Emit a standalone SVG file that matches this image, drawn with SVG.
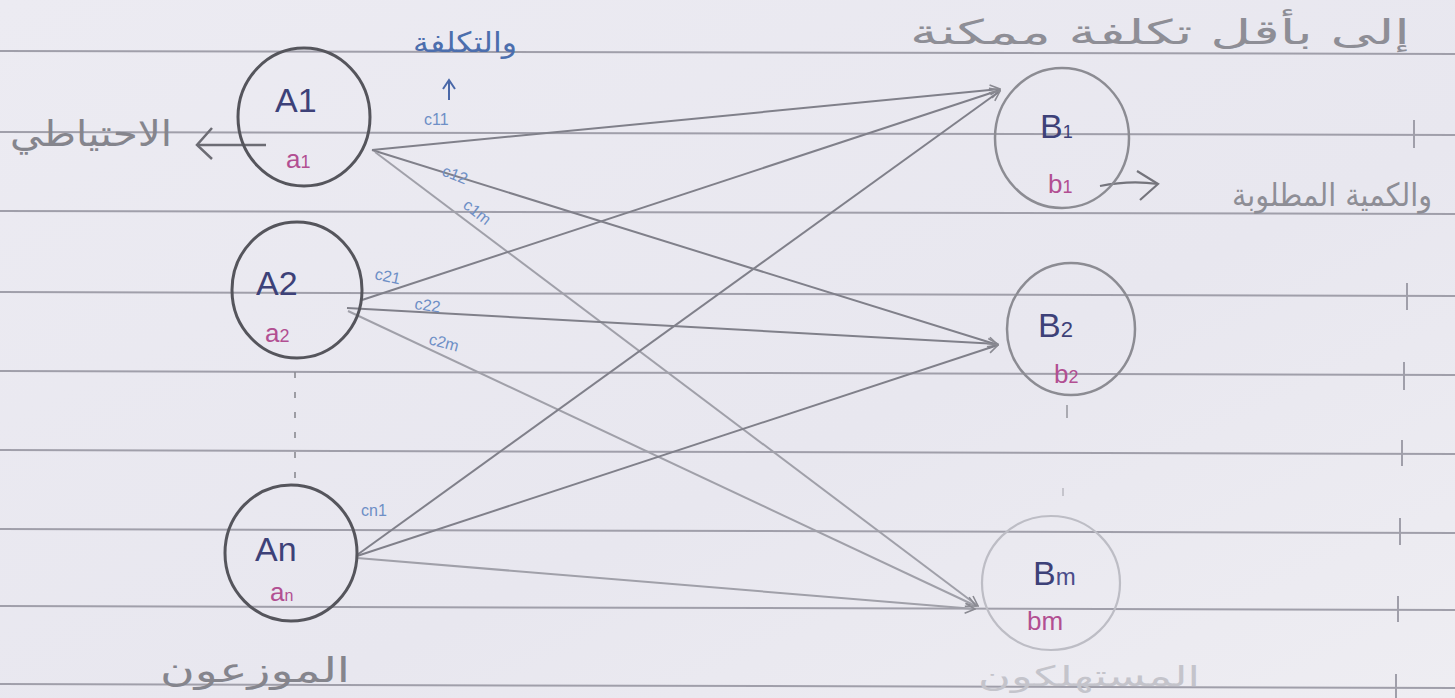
<svg xmlns="http://www.w3.org/2000/svg" width="1455" height="698" viewBox="0 0 1455 698">
  <defs>
    <linearGradient id="paper" x1="0" y1="0" x2="1" y2="1">
      <stop offset="0" stop-color="#ecebf2"/>
      <stop offset="0.6" stop-color="#e8e7ef"/>
      <stop offset="1" stop-color="#eeedf2"/>
    </linearGradient>
    <marker id="tip" viewBox="0 0 12 12" refX="11" refY="6" markerWidth="12" markerHeight="12" markerUnits="userSpaceOnUse" orient="auto">
      <path d="M1,1 L11,6 L1,11" fill="none" stroke="#8a8a92" stroke-width="1.6"/>
    </marker>
  </defs>
  <style>
    .rule { stroke: #a09faa; stroke-width: 2; }
    .tick { stroke: #a09faa; stroke-width: 2; }
    .src { fill: none; stroke: #55555c; stroke-width: 3; }
    .dst { fill: none; stroke: #8c8c93; stroke-width: 2.5; }
    .edge { fill: none; stroke: #80808a; stroke-width: 2; }
    .edge.faint { stroke: #a0a0a9; }
    .cap { font-family: "Liberation Sans", sans-serif; fill: #3d4178; font-size: 34px; }
    .qty { font-family: "Liberation Sans", sans-serif; fill: #b24f92; font-size: 26px; }
    .cost { font-family: "Liberation Sans", sans-serif; fill: #6e8fc6; font-size: 16px; }
    .note { font-family: "DejaVu Sans", sans-serif; fill: #85858d; direction: rtl; }
  </style>

  <!-- ruled notebook paper -->
  <rect width="1455" height="698" fill="url(#paper)"/>
  <g id="rules">
    <line class="rule" x1="0" y1="51" x2="1455" y2="54"/>
    <line class="rule" x1="0" y1="132" x2="1455" y2="135"/>
    <line class="rule" x1="0" y1="211" x2="1455" y2="214"/>
    <line class="rule" x1="0" y1="292" x2="1455" y2="296"/>
    <line class="rule" x1="0" y1="371" x2="1455" y2="375"/>
    <line class="rule" x1="0" y1="450" x2="1455" y2="454"/>
    <line class="rule" x1="0" y1="529" x2="1455" y2="533"/>
    <line class="rule" x1="0" y1="606" x2="1455" y2="610"/>
    <line class="rule" x1="0" y1="684" x2="1455" y2="688"/>
    <line class="tick" x1="1414" y1="120" x2="1414" y2="148"/>
    <line class="tick" x1="1407" y1="283" x2="1407" y2="310"/>
    <line class="tick" x1="1404" y1="362" x2="1404" y2="390"/>
    <line class="tick" x1="1402" y1="440" x2="1402" y2="466"/>
    <line class="tick" x1="1400" y1="518" x2="1400" y2="545"/>
    <line class="tick" x1="1398" y1="596" x2="1398" y2="622"/>
    <line class="tick" x1="1396" y1="674" x2="1396" y2="698"/>
  </g>

  <!-- transport routes from each distributor to each consumer -->
  <g id="connectors">
    <line class="edge" x1="372" y1="150" x2="1000" y2="89" marker-end="url(#tip)"/>
    <line class="edge" x1="372" y1="150" x2="998" y2="345" marker-end="url(#tip)"/>
    <line class="edge faint" x1="375" y1="152" x2="978" y2="606" marker-end="url(#tip)"/>
    <line class="edge" x1="362" y1="300" x2="1000" y2="90" marker-end="url(#tip)"/>
    <line class="edge" x1="347" y1="308" x2="998" y2="344" marker-end="url(#tip)"/>
    <line class="edge faint" x1="348" y1="311" x2="976" y2="606" marker-end="url(#tip)"/>
    <line class="edge" x1="357" y1="555" x2="1000" y2="91" marker-end="url(#tip)"/>
    <line class="edge" x1="357" y1="556" x2="998" y2="345" marker-end="url(#tip)"/>
    <line class="edge faint" x1="357" y1="558" x2="975" y2="609" marker-end="url(#tip)"/>
    <!-- reserve arrow out of A1 -->
    <line x1="266" y1="145" x2="197" y2="145" stroke="#6c6c74" stroke-width="2.5"/>
    <path d="M212,128 L197,145 L212,159" fill="none" stroke="#6c6c74" stroke-width="2.5"/>
    <!-- demand arrow out of B1 -->
    <path d="M1100,186 Q1130,180 1158,184" fill="none" stroke="#74747c" stroke-width="2.2"/>
    <path d="M1137,171 L1158,184 L1140,200" fill="none" stroke="#74747c" stroke-width="2.2"/>
    <!-- cost pointer -->
    <line x1="449" y1="100" x2="449" y2="82" stroke="#4a68a8" stroke-width="2"/>
    <path d="M443,89 L449,80 L455,89" fill="none" stroke="#4a68a8" stroke-width="2"/>
    <!-- ellipsis between rows -->
    <line x1="295" y1="372" x2="295" y2="478" stroke="#8a8a92" stroke-width="1.6" stroke-dasharray="6 14"/>
    <line x1="1067" y1="405" x2="1067" y2="418" stroke="#9a9aa2" stroke-width="1.6"/>
    <line x1="1063" y1="488" x2="1063" y2="496" stroke="#b5b5bc" stroke-width="1.4"/>
  </g>

  <!-- distributors -->
  <g id="A1">
    <ellipse class="src" cx="304" cy="117" rx="66" ry="69"/>
    <text class="cap" x="275" y="112">A1</text>
    <text class="qty" x="286" y="168">a<tspan font-size="18">1</tspan></text>
  </g>
  <g id="A2">
    <ellipse class="src" cx="297" cy="290" rx="65" ry="68"/>
    <text class="cap" x="256" y="295">A2</text>
    <text class="qty" x="265" y="342">a<tspan font-size="18">2</tspan></text>
  </g>
  <g id="An">
    <ellipse class="src" cx="291" cy="553" rx="66" ry="68"/>
    <text class="cap" x="255" y="561">An</text>
    <text class="qty" x="270" y="601">a<tspan font-size="16">n</tspan></text>
  </g>

  <!-- consumers -->
  <g id="B1">
    <ellipse class="dst" cx="1062" cy="138" rx="67" ry="70"/>
    <text class="cap" x="1040" y="138" fill="#5d5f86">B<tspan font-size="18">1</tspan></text>
    <text class="qty" x="1048" y="193" fill="#b4578f">b<tspan font-size="18">1</tspan></text>
  </g>
  <g id="B2">
    <ellipse class="dst" cx="1071" cy="329" rx="64" ry="66"/>
    <text class="cap" x="1038" y="337" fill="#6a6a78">B<tspan font-size="22">2</tspan></text>
    <text class="qty" x="1054" y="383" fill="#c070b0">b<tspan font-size="18">2</tspan></text>
  </g>
  <g id="Bm">
    <ellipse cx="1051" cy="583" rx="69" ry="67" fill="none" stroke="#bdbdc5" stroke-width="2.2"/>
    <text class="cap" x="1033" y="585" fill="#5a5a78">B<tspan font-size="24" fill="#4b4c8a">m</tspan></text>
    <text class="qty" x="1027" y="630" fill="#b46ab4">bm</text>
  </g>

  <!-- cost labels on the routes -->
  <g id="costs">
    <text class="cost" x="424" y="125" font-size="15">c11</text>
    <text class="cost" x="441" y="175" transform="rotate(22 441 175)">c12</text>
    <text class="cost" x="462" y="207" transform="rotate(38 462 207)">c1m</text>
    <text class="cost" x="374" y="279" transform="rotate(12 374 279)">c21</text>
    <text class="cost" x="414" y="309" transform="rotate(8 414 309)">c22</text>
    <text class="cost" x="428" y="344" transform="rotate(15 428 344)">c2m</text>
    <text class="cost" x="361" y="516" fill="#8ea4cf">cn1</text>
  </g>

  <!-- notes -->
  <g id="notes">
    <text class="note" x="517" y="52" font-size="28" textLength="104" lengthAdjust="spacingAndGlyphs" style="fill:#4c6ead">والتكلفة</text>
    <text class="note" x="172" y="146" font-size="36" textLength="162" lengthAdjust="spacingAndGlyphs">الاحتياطي</text>
    <text class="note" x="1410" y="44" font-size="34" textLength="500" lengthAdjust="spacingAndGlyphs" style="fill:#8e8e96">إلى بأقل تكلفة ممكنة</text>
    <text class="note" x="1432" y="206" font-size="32" textLength="200" lengthAdjust="spacingAndGlyphs" style="fill:#8e8e96">والكمية المطلوبة</text>
    <text class="note" x="350" y="682" font-size="34" textLength="190" lengthAdjust="spacingAndGlyphs">الموزعون</text>
    <text class="note" x="1200" y="686" font-size="28" textLength="222" lengthAdjust="spacingAndGlyphs" style="fill:#c4c4cb">المستهلكون</text>
  </g>
</svg>
